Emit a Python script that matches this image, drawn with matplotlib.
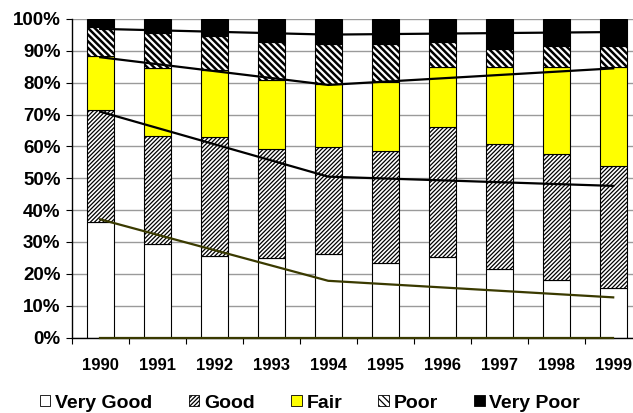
import numpy as np
import matplotlib
matplotlib.use("Agg")
import matplotlib.pyplot as plt
from matplotlib.patches import Patch
from matplotlib.ticker import FixedLocator, PercentFormatter

plt.rcParams.update(
    {
        "font.family": ["Liberation Sans", "DejaVu Sans"],
        "font.weight": "bold",
        "hatch.linewidth": 0.9,
        "hatch.color": "black",
    }
)

# -----------------------------
# Data (percent of each year)
# -----------------------------
years = ["1990", "1991", "1992", "1993", "1994", "1995", "1996", "1997", "1998", "1999"]
very_good = [36.2, 29.3, 25.6, 24.9, 26.2, 23.3, 25.4, 21.6, 18.1, 15.5]
good = [35.2, 34.1, 37.2, 34.2, 33.6, 35.3, 40.7, 39.2, 39.4, 38.3]
fair = [17.1, 21.3, 21.2, 21.7, 19.7, 21.7, 18.9, 24.2, 27.5, 31.2]
poor = [8.9, 10.8, 10.8, 12.0, 12.7, 12.0, 7.8, 5.6, 6.5, 6.5]
very_poor = [2.6, 4.5, 5.2, 7.2, 7.8, 7.7, 7.2, 9.4, 8.5, 8.5]

# trend lines (cumulative boundaries) at 1990, 1994, 1999
trend_years = ["1990", "1994", "1999"]
trend_poor = [96.9, 95.1, 95.9]
trend_fair = [88.0, 79.3, 84.5]
trend_good = [70.9, 50.5, 47.6]
trend_very_good = [37.1, 17.8, 12.6]
trend_base = [0.0, 0.0, 0.0]

# -----------------------------
# Plot
# -----------------------------
fig = plt.figure(figsize=(6.33, 4.13), dpi=100)
ax = fig.add_axes([71.7 / 633, 1 - 337.5 / 413, 570 / 633, 318.5 / 413])

x = np.arange(len(years))
w = 0.48

segments = [
    ("Very Good", very_good, "white", None, 0.9),
    ("Good", good, "white", "////////", 0.9),
    ("Fair", fair, "#ffff00", None, 0.9),
    ("Poor", poor, "white", "\\\\\\\\\\", 1.8),
    ("Very Poor", very_poor, "black", None, 0.9),
]

bottom = np.zeros(len(years))
handles = []
for name, vals, color, hatch, hlw in segments:
    bars = ax.bar(x, vals, w, bottom=bottom, color=color, hatch=hatch,
                  edgecolor="black", linewidth=0.8, zorder=2)
    bottom += np.array(vals)
    h = Patch(facecolor=color, hatch=hatch, edgecolor="black",
              linewidth=0.6, label=name)
    if hasattr(h, "set_hatch_linewidth"):
        h.set_hatch_linewidth(hlw * 0.7)
        for b in bars:
            b.set_hatch_linewidth(hlw)
    handles.append(h)

tx = [years.index(y) for y in trend_years]
for vals, col in [(trend_poor, "black"), (trend_fair, "black"),
                  (trend_good, "black"), (trend_very_good, "#3a3a00"),
                  (trend_base, "#3a3a00")]:
    ax.plot(tx, vals, color=col, linewidth=1.6, zorder=4, clip_on=False)

# axes styling
ax.set_xlim(-0.5, len(years) - 0.5)
ax.set_ylim(0, 100)
ax.set_xticks(x)
ax.set_xticklabels(years, fontsize=12, fontweight="bold")
ax.xaxis.set_minor_locator(FixedLocator(np.arange(-0.5, len(years), 1.0)))
ax.tick_params(axis="x", which="major", length=0, pad=15)
ax.tick_params(axis="x", which="minor", length=4, width=0.8, direction="out")

ax.set_yticks(np.arange(0, 101, 10))
ax.yaxis.set_major_formatter(PercentFormatter(decimals=0))
ax.tick_params(axis="y", length=4, width=0.8, pad=4, labelsize=13.5)
for lab in ax.get_yticklabels():
    lab.set_fontweight("bold")

ax.grid(axis="y", color="#9a9a9a", linewidth=1.0, zorder=0)
ax.set_axisbelow(True)
ax.spines[["top", "right"]].set_visible(False)
ax.spines["left"].set_linewidth(1.0)
ax.spines["bottom"].set_linewidth(1.0)

fig.legend(
    handles=handles,
    loc="center",
    bbox_to_anchor=(310 / 633, 1 - 403 / 413),
    ncol=5,
    frameon=False,
    prop={"size": 14, "weight": "bold"},
    handlelength=0.55,
    handleheight=0.55,
    handletextpad=0.25,
    columnspacing=1.85,
    borderaxespad=0,
)

fig.savefig("out.png", dpi=100)
